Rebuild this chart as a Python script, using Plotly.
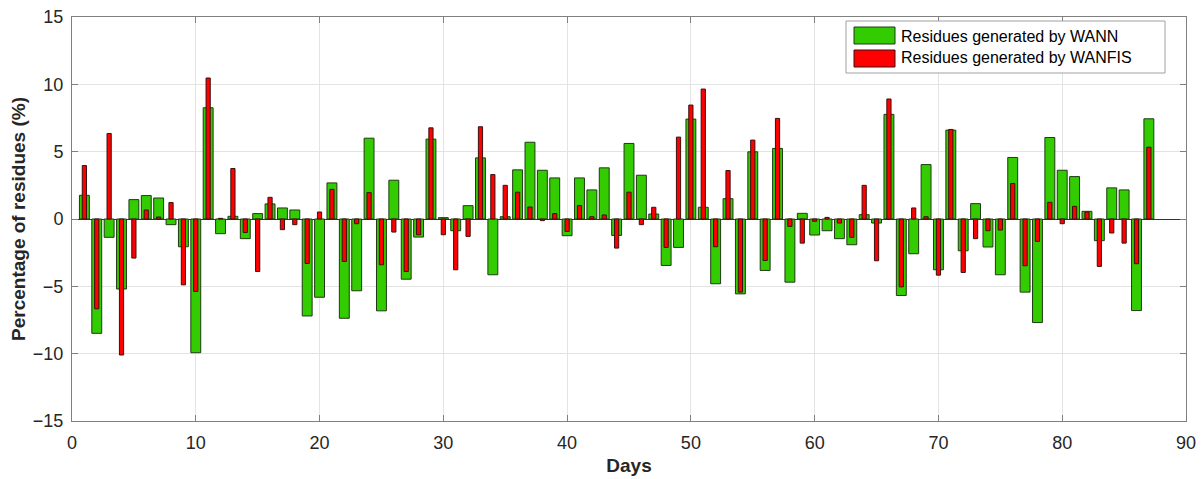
import plotly.graph_objects as go

days = list(range(1, 88))
wann = [1.76, -8.49, -1.36, -5.2, 1.44, 1.74, 1.56, -0.42, -2.06, -9.93,
        8.26, -1.09, 0.2, -1.46, 0.4, 1.12, 0.82, 0.67, -7.2, -5.81,
        2.68, -7.37, -5.33, 6.0, -6.82, 2.88, -4.47, -1.34, 5.93, 0.1,
        -0.87, 0.99, 4.54, -4.14, 0.17, 3.65, 5.7, 3.62, 3.05, -1.24,
        3.05, 2.16, 3.8, -1.22, 5.61, 3.25, 0.37, -3.45, -2.11, 7.42,
        0.87, -4.81, 1.51, -5.56, 4.99, -3.82, 5.24, -4.69, 0.42, -1.19,
        -0.87, -1.46, -1.91, 0.32, -0.3, 7.77, -5.68, -2.58, 4.04, -3.77,
        6.6, -2.36, 1.14, -2.08, -4.14, 4.57, -5.43, -7.69, 6.05, 3.62,
        3.15, 0.57, -1.61, 2.31, 2.16, -6.8, 7.44]
wanfis = [3.97, -6.67, 6.35, -10.1, -2.9, 0.67, 0.15, 1.22, -4.89, -5.38,
          10.47, 0.05, 3.75, -1.0, -3.9, 1.61, -0.79, -0.42, -3.3, 0.52,
          2.2, -3.15, -0.35, 1.96, -3.4, -0.97, -3.9, -1.17, 6.77, -1.17,
          -3.77, -1.29, 6.85, 3.3, 2.5, 1.99, 0.89, -0.12, 0.4, -0.92,
          0.99, 0.17, 0.3, -2.16, 1.99, -0.42, 0.87, -2.11, 6.08, 8.46,
          9.65, -2.06, 3.6, -5.43, 5.86, -3.08, 7.47, -0.55, -1.79, -0.17,
          0.12, -0.3, -1.36, 2.5, -3.1, 8.91, -5.04, 0.82, 0.17, -4.17,
          6.65, -3.97, -1.46, -0.87, -0.82, 2.63, -3.47, -1.66, 1.24, -0.35,
          0.94, 0.52, -3.52, -1.04, -1.79, -3.32, 5.33]

x_ticks = [0, 10, 20, 30, 40, 50, 60, 70, 80, 90]
y_ticks = [-15, -10, -5, 0, 5, 10, 15]
series_names = ["Residues generated by WANN", "Residues generated by WANFIS"]
series_colors = ["#33cc00", "#ff0000"]

font = "Liberation Sans, Arial, sans-serif"

# page body has an 8px default margin; compensate so the plot lands
# at window px x 72..1186, y 17..421
OFF = 8
W, H = 1204 - OFF, 479 - OFF
L, R, T, B = 72 - OFF, 18, 17 - OFF, 58
PLOT_L, PLOT_T = 72, 17
PW, PH = W - L - R, H - T - B


def px_x(p):
    return (p - PLOT_L) / PW


def px_y(p):
    return (PLOT_T + PH - p) / PH


fig = go.Figure()
fig.add_trace(go.Bar(
    x=days, y=wann, width=0.8, name=series_names[0],
    marker=dict(color=series_colors[0], line=dict(color="#1f3a14", width=1)),
))
fig.add_trace(go.Bar(
    x=days, y=wanfis, width=0.34, name=series_names[1],
    marker=dict(color=series_colors[1], line=dict(color="#3a1010", width=1)),
))

axis_common = dict(
    showgrid=True, gridcolor="#e3e3e3", gridwidth=1,
    showline=True, linecolor="#808080", linewidth=1, mirror="ticks",
    ticks="inside", ticklen=6, tickcolor="#808080",
    tickfont=dict(family=font, size=18, color="#262626"),
    automargin=False, ticklabeloverflow="allow",
)

shapes = [
    dict(type="rect", xref="paper", yref="paper",
         x0=px_x(846), x1=px_x(1165), y0=px_y(73), y1=px_y(21),
         fillcolor="white", line=dict(color="#a0a0a0", width=1), layer="above"),
    dict(type="rect", xref="paper", yref="paper",
         x0=px_x(854), x1=px_x(895), y0=px_y(44), y1=px_y(27),
         fillcolor=series_colors[0], line=dict(color="#1f3a14", width=1), layer="above"),
    dict(type="rect", xref="paper", yref="paper",
         x0=px_x(854), x1=px_x(895), y0=px_y(67), y1=px_y(50),
         fillcolor=series_colors[1], line=dict(color="#3a1010", width=1), layer="above"),
]
annotations = [
    dict(xref="paper", yref="paper", x=px_x(899), y=px_y(36), text=series_names[0],
         showarrow=False, xanchor="left", yanchor="middle",
         font=dict(family=font, size=16, color="#000000")),
    dict(xref="paper", yref="paper", x=px_x(899), y=px_y(58), text=series_names[1],
         showarrow=False, xanchor="left", yanchor="middle",
         font=dict(family=font, size=16, color="#000000")),
]

fig.update_layout(
    width=W, height=H,
    margin=dict(l=L, r=R, t=T, b=B),
    barmode="overlay",
    plot_bgcolor="white", paper_bgcolor="white",
    font=dict(family=font),
    xaxis=dict(range=[0, 90], tickvals=x_ticks, zeroline=False, ticklabelstandoff=5,
               title=dict(text="<b>Days</b>", font=dict(family=font, size=19, color="#262626"), standoff=7),
               **axis_common),
    yaxis=dict(range=[-15, 15], tickvals=y_ticks, zeroline=True, ticklabelstandoff=4,
               zerolinecolor="#333333", zerolinewidth=1,
               title=dict(text="<b>Percentage of residues (%)</b>", font=dict(family=font, size=19, color="#262626"), standoff=3),
               **axis_common),
    shapes=shapes,
    annotations=annotations,
    showlegend=False,
)

fig.write_html("out.html")
